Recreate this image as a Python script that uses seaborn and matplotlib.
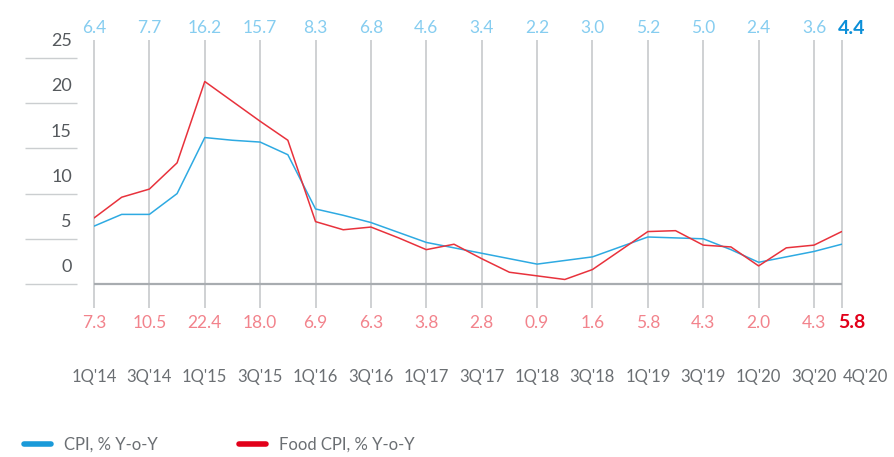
import numpy as np
import pandas as pd
import seaborn as sns
import matplotlib.pyplot as plt
from matplotlib.lines import Line2D

sns.set_style("white")
plt.rcParams['font.family'] = ['Lato', 'DejaVu Sans']

# quarterly data, % y-o-y
quarters = ["1Q'14", "2Q'14", "3Q'14", "4Q'14", "1Q'15", "2Q'15", "3Q'15", "4Q'15",
            "1Q'16", "2Q'16", "3Q'16", "4Q'16", "1Q'17", "2Q'17", "3Q'17", "4Q'17",
            "1Q'18", "2Q'18", "3Q'18", "4Q'18", "1Q'19", "2Q'19", "3Q'19", "4Q'19",
            "1Q'20", "2Q'20", "3Q'20", "4Q'20"]
cpi = [6.4, 7.7, 7.7, 10.0, 16.2, 15.9, 15.7, 14.3, 8.3, 7.6, 6.8, 5.7, 4.6, 4.0,
       3.4, 2.8, 2.2, 2.6, 3.0, 4.1, 5.2, 5.1, 5.0, 3.8, 2.4, 3.0, 3.6, 4.4]
food = [7.3, 9.6, 10.5, 13.4, 22.4, 20.2, 18.0, 15.9, 6.9, 6.0, 6.3, 5.1, 3.8, 4.4,
        2.8, 1.3, 0.9, 0.5, 1.6, 3.7, 5.8, 5.9, 4.3, 4.1, 2.0, 4.0, 4.3, 5.8]
y_ticks = [0, 5, 10, 15, 20, 25]

BLUE = '#2eaae2'
RED = '#e8323c'
BLUE_LBL = '#86cdf0'
RED_LBL = '#f2838c'
GRID = '#cbced0'

df = pd.DataFrame({'q': np.arange(len(quarters)), 'CPI': cpi, 'Food': food})
long = df.melt(id_vars='q', var_name='series', value_name='value')

fig = plt.figure(figsize=(8.94, 4.57), dpi=100)
ax = fig.add_axes([94 / 894, 1 - 284 / 457, (841.7 - 94) / 894, 226 / 457])

# marked quarters: every 1Q and 3Q plus the last one
marks = list(range(0, len(quarters), 2)) + [len(quarters) - 1]

ax.vlines(marks, -2.65, 27.0, color=GRID, lw=1.3, clip_on=False, zorder=0)
ax.hlines(0, 0, len(quarters) - 1, color='#a8acb0', lw=1.6, clip_on=False, zorder=1)
ax.hlines(y_ticks, -2.49, -0.61, color=GRID, lw=1.0, clip_on=False)

sns.lineplot(data=long, x='q', y='value', hue='series', palette={'CPI': BLUE, 'Food': RED},
             lw=1.1, legend=False, ax=ax, zorder=3)

ax.set_xlim(0, len(quarters) - 1)
ax.set_ylim(0, 25)
ax.axis('off')

for v in y_ticks:
    ax.text(-0.8, v + 1.85, str(v), ha='right', va='center', fontsize=13, color='#55595d')

last = len(quarters) - 1
for i in marks:
    if i == last:
        ax.text(i + 0.36, 28.3, f"{cpi[i]:.1f}", ha='center', va='center', fontsize=14,
                color='#0b8fd8', fontweight='bold')
        ax.text(i + 0.36, -4.3, f"{food[i]:.1f}", ha='center', va='center', fontsize=14,
                color='#e2001a', fontweight='bold')
        ax.text(i + 0.03, -10.3, quarters[i], ha='left', va='center', fontsize=12,
                color='#6b6f73')
    else:
        ax.text(i, 28.3, f"{cpi[i]:.1f}", ha='center', va='center', fontsize=12.5,
                color=BLUE_LBL)
        ax.text(i, -4.3, f"{food[i]:.1f}", ha='center', va='center', fontsize=12.5,
                color=RED_LBL)
        ax.text(i, -10.3, quarters[i], ha='center', va='center', fontsize=12,
                color='#6b6f73')

handles = [Line2D([], [], color='#1a9ad9', lw=4), Line2D([], [], color='#e2001a', lw=4)]
fig.legend(handles, ['CPI, % Y-o-Y', 'Food CPI, % Y-o-Y'], loc='center left',
           bbox_to_anchor=(24 / 894, 1 - 445 / 457), ncol=2, frameon=False,
           fontsize=12, handlelength=1.6, handletextpad=0.8, columnspacing=4.9,
           borderpad=0, borderaxespad=0, labelcolor='#6b6f73')

fig.savefig('out.png', dpi=100)
